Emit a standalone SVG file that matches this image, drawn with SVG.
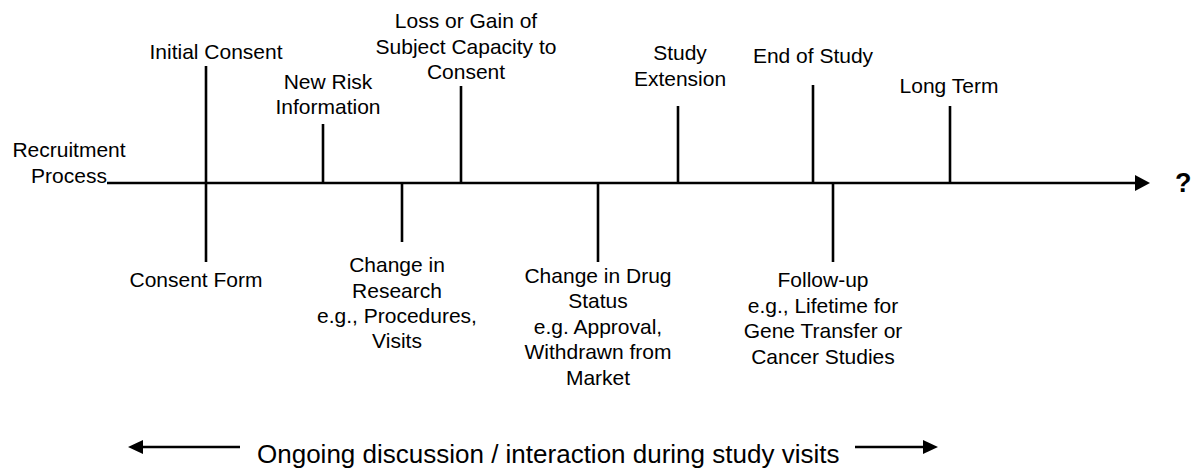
<svg xmlns="http://www.w3.org/2000/svg" width="1194" height="470" viewBox="0 0 1194 470">
<defs>
<style>
.lbl{font-family:"Liberation Sans",Arial,sans-serif;font-size:21px;fill:#000;text-anchor:middle}
.q{font-family:"Liberation Sans",Arial,sans-serif;font-size:27px;font-weight:bold;fill:#000}
.bot{font-family:"Liberation Sans",Arial,sans-serif;font-size:26px;fill:#000}
.ln{stroke:#000;stroke-width:2.6;fill:none}
</style>
<marker id="ah" markerUnits="userSpaceOnUse" markerWidth="16" markerHeight="18" refX="0" refY="8" orient="auto">
<path d="M0,0 L15,8 L0,16 Z" fill="#000"/>
</marker>
<marker id="ah2" markerUnits="userSpaceOnUse" markerWidth="16" markerHeight="16" refX="0" refY="7" orient="auto">
<path d="M0,0 L15,7 L0,14 Z" fill="#000"/>
</marker>
</defs>
<rect width="1194" height="470" fill="#fff"/>
<g id="connectors">
<line class="ln" x1="107" y1="183" x2="1135" y2="183" marker-end="url(#ah)" stroke-width="2.8"/>
<line class="ln" x1="206" y1="66" x2="206" y2="262"/>
<line class="ln" x1="323" y1="124" x2="323" y2="183"/>
<line class="ln" x1="461" y1="86" x2="461" y2="183"/>
<line class="ln" x1="678" y1="106" x2="678" y2="183"/>
<line class="ln" x1="813" y1="85" x2="813" y2="183"/>
<line class="ln" x1="950" y1="106" x2="950" y2="183"/>
<line class="ln" x1="402" y1="183" x2="402" y2="242"/>
<line class="ln" x1="598" y1="183" x2="598" y2="262"/>
<line class="ln" x1="833" y1="183" x2="833" y2="262"/>
<line class="ln" x1="240" y1="447" x2="143" y2="447" marker-end="url(#ah2)"/>
<line class="ln" x1="855" y1="447" x2="923" y2="447" marker-end="url(#ah2)"/>
</g>
<g id="recruitment"><text class="lbl"><tspan x="69" y="157">Recruitment</tspan><tspan x="69" y="183">Process</tspan></text></g>
<g id="initial-consent"><text class="lbl" x="216" y="59">Initial Consent</text></g>
<g id="consent-form"><text class="lbl" x="196" y="287">Consent Form</text></g>
<g id="new-risk"><text class="lbl"><tspan x="328" y="89">New Risk</tspan><tspan x="328" y="114">Information</tspan></text></g>
<g id="change-research"><text class="lbl"><tspan x="397" y="272">Change in</tspan><tspan x="397" y="298">Research</tspan><tspan x="397" y="323">e.g., Procedures,</tspan><tspan x="397" y="348">Visits</tspan></text></g>
<g id="capacity"><text class="lbl"><tspan x="466" y="28">Loss or Gain of</tspan><tspan x="466" y="54">Subject Capacity to</tspan><tspan x="466" y="79">Consent</tspan></text></g>
<g id="drug-status"><text class="lbl"><tspan x="598" y="283">Change in Drug</tspan><tspan x="598" y="308">Status</tspan><tspan x="598" y="334">e.g. Approval,</tspan><tspan x="598" y="359">Withdrawn from</tspan><tspan x="598" y="385">Market</tspan></text></g>
<g id="study-extension"><text class="lbl"><tspan x="680" y="60">Study</tspan><tspan x="680" y="86">Extension</tspan></text></g>
<g id="end-of-study"><text class="lbl" x="813" y="63">End of Study</text></g>
<g id="follow-up"><text class="lbl"><tspan x="823" y="287">Follow-up</tspan><tspan x="823" y="313">e.g., Lifetime for</tspan><tspan x="823" y="338">Gene Transfer or</tspan><tspan x="823" y="364">Cancer Studies</tspan></text></g>
<g id="long-term"><text class="lbl" x="949" y="93">Long Term</text></g>
<g id="unknown"><text class="q" x="1175" y="192">?</text></g>
<g id="ongoing"><text class="bot" x="257" y="463">Ongoing discussion / interaction during study visits</text></g>
</svg>
